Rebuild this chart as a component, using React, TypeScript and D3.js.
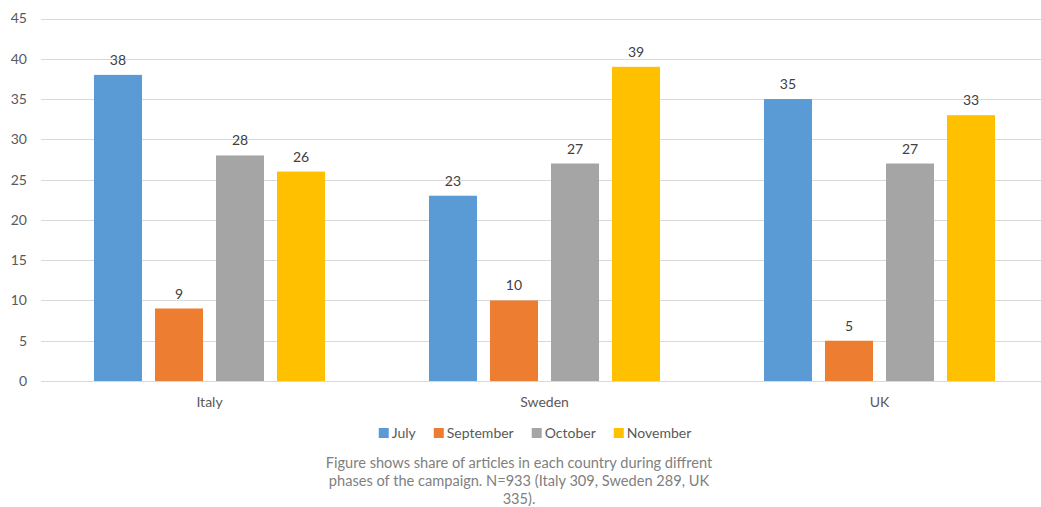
import React, { useEffect, useRef } from 'react';
import * as d3 from 'd3';

const countries = ['Italy', 'Sweden', 'UK'];
const phases = ['July', 'September', 'October', 'November'];
const july = [38, 23, 35];
const september = [9, 10, 5];
const october = [28, 27, 27];
const november = [26, 39, 33];
const yTicks = [0, 5, 10, 15, 20, 25, 30, 35, 40, 45];
const phaseColors = ['#5B9BD5', '#ED7D31', '#A5A5A5', '#FFC000'];
const captionLines = [
  'Figure shows share of articles in each country during diffrent',
  'phases of the campaign. N=933 (Italy 309, Sweden 289, UK',
  '335).',
];

const W = 1041;
const H = 507;
const FONT = 'Lato, "Open Sans", sans-serif';

export default function App() {
  const ref = useRef<SVGSVGElement | null>(null);

  useEffect(() => {
    const svg = d3.select(ref.current);
    svg.selectAll('*').remove();

    const seriesValues = [july, september, october, november];

    const x0 = d3.scaleBand<string>().domain(countries).range([42, 1047]).padding(0);
    const x1 = d3
      .scaleBand<string>()
      .domain(phases)
      .range([0, x0.bandwidth()])
      .paddingInner(13 / 61)
      .paddingOuter(0.852);
    const y = d3.scaleLinear().domain([0, 45]).range([381, 18.5]);

    // horizontal gridlines
    svg
      .append('g')
      .selectAll('line')
      .data(yTicks)
      .join('line')
      .attr('x1', 41)
      .attr('x2', W)
      .attr('y1', (d) => Math.round(y(d)) + 0.5)
      .attr('y2', (d) => Math.round(y(d)) + 0.5)
      .attr('stroke', '#d9d9d9')
      .attr('stroke-width', 1);

    // y tick labels
    svg
      .append('g')
      .selectAll('text')
      .data(yTicks)
      .join('text')
      .attr('x', 27)
      .attr('y', (d) => y(d))
      .attr('dy', '0.35em')
      .attr('text-anchor', 'end')
      .attr('font-family', FONT)
      .attr('font-size', 14)
      .attr('fill', '#595959')
      .text((d) => d);

    // bars and value labels
    const groups = svg
      .append('g')
      .selectAll('g')
      .data(countries)
      .join('g')
      .attr('transform', (c) => `translate(${x0(c)},0)`);

    const cells = (ci: number) =>
      phases.map((p, pi) => ({ phase: p, value: seriesValues[pi][ci], color: phaseColors[pi] }));

    groups
      .selectAll('rect')
      .data((c, ci) => cells(ci))
      .join('rect')
      .attr('x', (d) => x1(d.phase)!)
      .attr('width', x1.bandwidth())
      .attr('y', (d) => y(d.value))
      .attr('height', (d) => y(0) - y(d.value))
      .attr('fill', (d) => d.color);

    groups
      .selectAll('text')
      .data((c, ci) => cells(ci))
      .join('text')
      .attr('x', (d) => x1(d.phase)! + x1.bandwidth() / 2)
      .attr('y', (d) => y(d.value) - 10)
      .attr('text-anchor', 'middle')
      .attr('font-family', FONT)
      .attr('font-size', 14)
      .attr('fill', '#404040')
      .text((d) => d.value);

    // category labels
    svg
      .append('g')
      .selectAll('text')
      .data(countries)
      .join('text')
      .attr('x', (c) => x0(c)! + x0.bandwidth() / 2)
      .attr('y', 407)
      .attr('text-anchor', 'middle')
      .attr('font-family', FONT)
      .attr('font-size', 14)
      .attr('fill', '#595959')
      .text((c) => c);

    // legend
    const legend = svg.append('g');
    const items = legend
      .selectAll('g')
      .data(phases)
      .join('g');
    items
      .append('rect')
      .attr('width', 10)
      .attr('height', 10)
      .attr('y', 428)
      .attr('fill', (d, i) => phaseColors[i]);
    items
      .append('text')
      .attr('x', 13)
      .attr('y', 438)
      .attr('font-family', FONT)
      .attr('font-size', 14)
      .attr('fill', '#595959')
      .text((d) => d);
    let cursor = 0;
    const offsets: number[] = [];
    items.each(function () {
      const t = d3.select(this).select('text').node() as SVGTextElement;
      offsets.push(cursor);
      cursor += 13 + t.getComputedTextLength() + 18;
    });
    const totalW = cursor - 18;
    const startX = 535 - totalW / 2;
    items.attr('transform', (d, i) => `translate(${startX + offsets[i]},0)`);

    // caption
    svg
      .append('g')
      .selectAll('text')
      .data(captionLines)
      .join('text')
      .attr('x', 519)
      .attr('y', (d, i) => 468 + i * 18)
      .attr('text-anchor', 'middle')
      .attr('font-family', FONT)
      .attr('font-size', 14.6)
      .attr('fill', '#808080')
      .text((d) => d);
  }, []);

  return (
    <svg
      ref={ref}
      width={W}
      height={H}
      style={{ position: 'absolute', left: 0, top: 0, background: '#fff' }}
    />
  );
}
